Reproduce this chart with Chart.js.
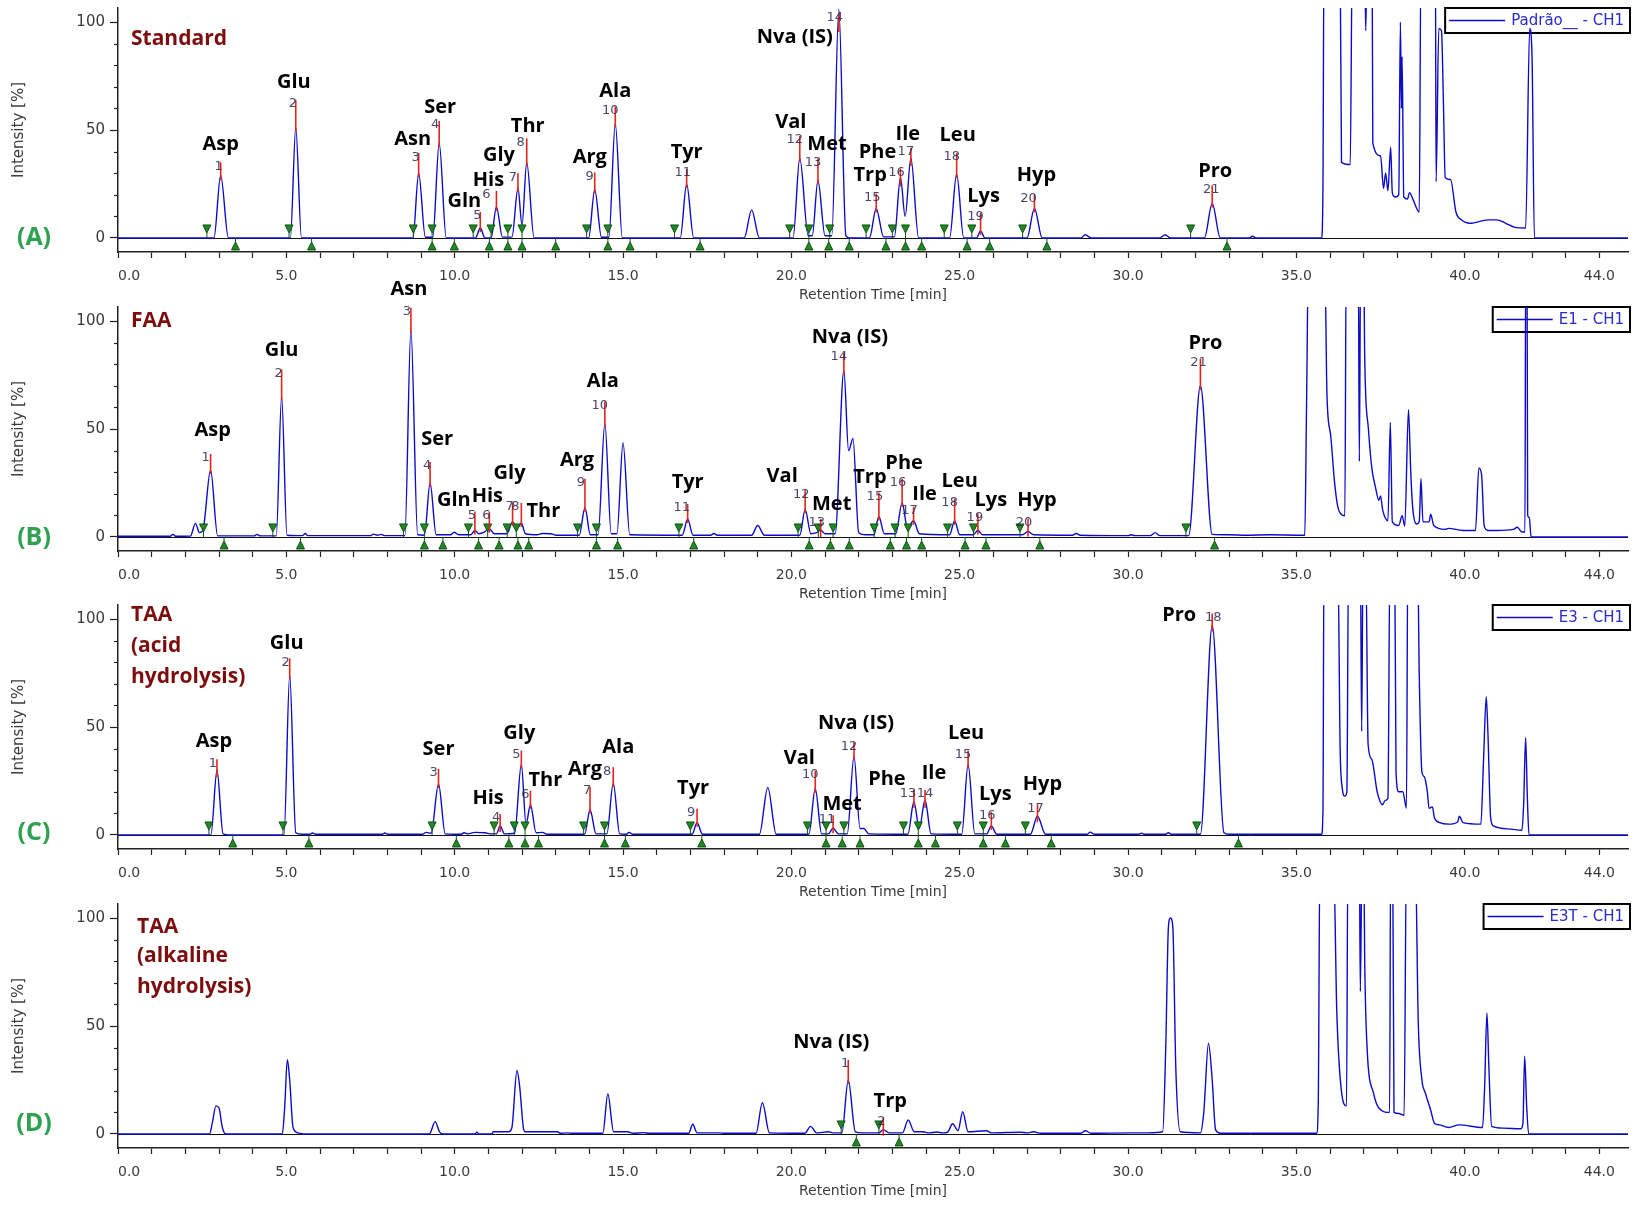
<!DOCTYPE html>
<html>
<head>
<meta charset="utf-8">
<title>Amino acid chromatograms</title>
<script src="https://cdn.jsdelivr.net/npm/chart.js@4.4.1/dist/chart.umd.min.js"></script>
<style>
  html, body { margin: 0; padding: 0; background: #fff; overflow: hidden; }
  #wrap { position: relative; width: 1640px; height: 1211px; }
  #wrap canvas { position: absolute; left: 0; }
</style>
</head>
<body>
<div id="wrap">
  <canvas id="chartA" width="1640" height="332" style="top:-20px"></canvas>
  <canvas id="chartB" width="1640" height="332" style="top:279px"></canvas>
  <canvas id="chartC" width="1640" height="332" style="top:577px"></canvas>
  <canvas id="chartD" width="1640" height="332" style="top:876px"></canvas>
</div>
<script>
// ============================================================
// Data: [retention time (min), intensity (%)]
// ============================================================

const rtTicks      = [0, 5, 10, 15, 20, 25, 30, 35, 40, 44];
const rtTickLabels = ['0.0', '5.0', '10.0', '15.0', '20.0', '25.0', '30.0', '35.0', '40.0', '44.0'];
const intTicks      = [0, 50, 100];
const intTickLabels = ['0', '50', '100'];

// ------ (A) Standard ------
const traceA = [
  [0,0],[2.85,0],[3.05,29],[3.28,0],
  [5.12,0],[5.28,51],[5.45,0],
  [8.76,0],[8.93,30],[9.13,0.3],[9.35,0.3],[9.54,44],[9.75,0],
  [10.62,0],[10.76,4.6],[10.9,0],
  [11.08,0],[11.24,14.4],[11.42,0.4],
  [11.7,0.4],[11.88,23],[12.0,6],[12.14,35],[12.36,0],
  [13.98,0],[14.16,22.5],[14.36,0.3],[14.58,0.3],[14.77,53],[14.98,0],
  [16.7,0],[16.89,25],[17.1,0],
  [18.6,0],[18.82,13],[19.05,0],
  [20.05,0],[20.25,37],[20.5,1],[20.62,1],[20.79,26.6],[21.0,1],[21.2,1],[21.41,106],[21.62,1],[21.75,0],
  [22.32,0],[22.52,13.7],[22.74,0.5],[23.06,0.5],[23.24,28],[23.38,10],[23.55,37],[23.78,0],
  [24.7,0],[24.91,29.6],[25.12,0],
  [25.5,0],[25.62,3.3],[25.75,0],
  [27.0,0],[27.22,13.7],[27.45,0],
  [28.6,0],[28.73,1.5],[28.9,0],
  [30.95,0],[31.1,1.5],[31.25,0],
  [32.27,0],[32.5,16],[32.74,0],
  [33.6,0],[33.7,0.8],[33.8,0],
  [35.75,0],[35.79,26],[35.82,130],[36.3,130],[36.34,35],[36.6,34],[36.66,130],[37.03,130],[37.06,96],
  [37.1,130],[37.25,130],[37.27,44],[37.5,38],[37.59,23],[37.65,30],[37.72,22],[37.8,42],[37.85,21],
  [37.93,19],[38.04,20],[38.09,100],[38.12,60],[38.14,84],[38.19,19],[38.3,18],[38.36,21],[38.46,18],
  [38.65,12],[38.7,130],[39.13,130],[39.15,26],[39.23,97],[39.31,96],[39.37,61],[39.42,28],[39.58,27],
  [39.74,12],[39.9,8.4],[40.16,6.8],[40.69,8.4],[40.95,8.4],[41.22,6.8],[41.49,4.9],[41.81,4.6],
  [41.93,97],[42.0,84],[42.07,0],[44.85,0]
];
const namesA = ['Asp','Glu','Asn','Ser','Gln','His','Gly','Thr','Arg','Ala','Tyr','Val','Met','Nva (IS)','Trp','Phe','Ile','Leu','Lys','Hyp','Pro'];
const rtA    = [3.05,5.28,8.93,9.54,10.76,11.24,11.88,12.14,14.16,14.77,16.89,20.25,20.79,21.41,22.52,23.24,23.55,24.91,25.62,27.22,32.5];
const htA    = [29,51,30,44,4.6,14.4,23,35,22.5,53,25,37,26.6,106,13.7,28,37,29.6,3.3,13.7,16];
const startA = [2.64,5.08,8.77,9.33,10.55,11.08,11.58,12.0,13.92,14.55,16.53,19.95,20.52,21.14,22.22,23.0,23.39,24.54,25.36,26.87,31.86];
const endA   = [3.49,5.75,9.33,9.99,11.03,11.58,12.0,13.0,14.55,15.21,17.29,20.52,21.11,21.72,22.81,23.39,23.87,25.22,25.89,27.59,32.94];

// ------ (B) FAA ------
const traceB = [
  [0,0.3],[1.55,0.3],[1.63,1.2],[1.71,0.3],
  [2.15,0.4],[2.3,6.3],[2.42,2],[2.52,3],[2.75,31],[2.96,0.5],
  [4.05,0.5],[4.13,1.2],[4.22,0.5],
  [4.7,0.5],[4.86,65],[5.02,0.8],
  [5.48,0.6],[5.56,1.6],[5.64,0.6],
  [7.5,0.6],[7.58,1.3],[7.7,0.8],[7.82,1.2],[7.93,0.6],
  [8.52,0.6],[8.7,96],[8.9,1],[9.1,0.8],[9.27,25],[9.45,1],
  [9.88,1],[9.98,2.2],[10.12,1],
  [10.48,1],[10.6,3],[10.72,1.5],[10.88,2.2],[11.03,3.8],[11.17,1.5],
  [11.55,1.5],[11.72,7],[11.86,4],[11.98,6.5],[12.1,1.5],
  [12.45,1],[12.6,1.6],[12.85,1.5],[13.0,0.8],
  [13.7,0.8],[13.87,13.5],[14.03,1],
  [14.26,1],[14.46,52.6],[14.65,1.5],[14.82,1.5],[15.0,43.6],[15.2,1],
  [16.76,0.8],[16.92,8.3],[17.08,0.8],
  [17.6,0.8],[17.7,1.6],[17.8,0.8],
  [18.82,0.8],[19.0,5.3],[19.2,0.8],
  [20.25,0.8],[20.41,12.8],[20.58,1.5],[20.75,2],[20.87,3.2],[21.0,1.5],[21.3,1.5],
  [21.56,77],[21.7,40],[21.83,45.6],[22.0,2],[22.2,1],
  [22.45,1],[22.6,9.5],[22.76,1.5],
  [23.1,1.5],[23.29,15.8],[23.45,4],[23.63,7.5],[23.8,1.5],
  [24.7,1],[24.85,7.5],[25.0,1],
  [25.4,1],[25.54,3],[25.68,1],
  [26.86,1],[27.03,2.5],[27.2,1],
  [28.35,0.8],[28.46,1.6],[28.58,0.8],
  [30.0,0.6],[30.1,1],[30.2,0.6],
  [30.66,0.6],[30.8,2],[30.95,0.6],
  [31.8,0.6],[32.15,70],[32.5,1.2],
  [33.0,1],[33.5,0.8],[34.2,1],[35.2,0.8],
  [35.25,0.8],[35.3,58],[35.36,130],[35.84,130],[35.91,65],[36.02,47],[36.13,26],[36.23,14],[36.33,10.5],
  [36.44,9.8],[36.48,130],[36.84,130],[36.87,35],[36.91,130],[37.0,130],[37.03,83],[37.14,50],[37.24,32],
  [37.35,23],[37.45,17],[37.5,19],[37.56,12.8],[37.72,7.5],[37.79,53],[37.85,7],[38.04,5.3],[38.14,9.8],
  [38.22,5],[38.33,59],[38.4,29],[38.46,12.8],[38.57,6],[38.65,7],[38.7,27],[38.76,7],[38.94,7],[38.99,10.5],
  [39.08,5.3],[39.42,3.5],[39.52,4],[39.95,3],[40.32,3],[40.42,32],[40.5,29],[40.58,5],[40.69,3],[40.96,3],
  [41.44,3.5],[41.56,4.5],[41.7,2.3],[41.79,2.3],[41.81,130],[41.85,130],[41.87,10],[41.92,9],[41.97,0],[44.85,0]
];
const namesB = ['Asp','Glu','Asn','Ser','Gln','His','Gly','Thr','Arg','Ala','Tyr','Val','Met','Nva (IS)','Trp','Phe','Ile','Leu','Lys','Hyp','Pro'];
const rtB    = [2.75,4.86,8.7,9.27,10.6,11.03,11.72,11.98,13.87,14.46,16.92,20.41,20.87,21.56,22.6,23.29,23.63,24.85,25.54,27.03,32.15];
const htB    = [31,65,96,25,3,3.8,7,6.5,13.5,52.6,8.3,12.8,3.2,77,9.5,15.8,7.5,7.5,3,2.5,70];
const startB = [2.54,4.6,8.48,9.1,10.41,10.98,11.56,11.83,13.65,14.21,16.66,20.2,20.8,21.24,22.46,23.08,23.47,24.64,25.41,26.79,31.72];
const endB   = [3.15,5.42,9.1,9.65,10.71,11.32,11.88,12.2,14.21,14.84,17.1,20.53,21.16,21.72,22.94,23.42,23.87,25.16,25.78,27.38,32.57];

// ------ (C) TAA, acid hydrolysis ------
const traceC = [
  [0,0],[2.76,0],[2.94,30],[3.12,0.5],[3.3,0],
  [4.93,0],[5.1,74],[5.28,1],[5.45,0.3],[5.7,0.3],[5.77,0.9],[5.88,0.3],
  [7.85,0.3],[7.92,0.9],[8.02,0.3],
  [9.05,0.3],[9.15,1.2],[9.3,0.8],[9.52,23.6],[9.72,0.5],
  [10.18,0.3],[10.28,1],[10.4,0.5],[10.6,1.2],[10.9,1],[11.1,0.5],
  [11.24,0.5],[11.35,4.2],[11.48,0.5],
  [11.78,0.8],[11.98,32.6],[12.12,5],[12.25,14],[12.42,1],[12.6,1.2],[12.75,0.3],
  [13.86,0.3],[14.02,11.7],[14.2,0.5],
  [14.52,0.5],[14.71,24],[14.9,0.5],
  [15.1,0.3],[15.18,1.2],[15.28,0.3],
  [17.05,0.3],[17.2,5.7],[17.36,0.3],
  [19.05,0.3],[19.3,22],[19.55,0.3],
  [20.52,0.3],[20.71,21.4],[20.9,0.5],
  [21.1,0.5],[21.24,3.1],[21.4,0.5],
  [21.66,0.5],[21.86,36.4],[22.04,3],[22.15,3],[22.3,0.5],
  [23.46,0.3],[23.64,15.4],[23.8,3],[23.97,16.2],[24.15,0.5],
  [25.06,0.3],[25.25,32.6],[25.45,0.5],
  [25.8,0.5],[25.94,4.2],[26.1,0.3],
  [27.1,0.3],[27.31,8.7],[27.55,0.3],
  [28.78,0.3],[28.88,1.3],[29.0,0.3],
  [30.3,0.3],[30.4,0.8],[30.5,0.3],
  [31.1,0.3],[31.2,1],[31.3,0.3],
  [32.15,0.3],[32.5,97],[32.85,1],[33.0,0.3],
  [35.75,0.3],[35.79,12],[35.82,130],[36.23,130],[36.3,40],[36.36,22],[36.44,18],[36.5,20],[36.55,130],
  [36.9,130],[36.94,48],[36.98,130],[37.06,130],[37.13,42],[37.24,35],[37.4,20],[37.56,14],[37.64,16],
  [37.72,17],[37.78,130],[37.92,130],[37.96,29],[38.04,20],[38.16,20],[38.27,12.4],[38.31,130],[38.6,130],
  [38.65,74],[38.73,29],[38.8,27],[38.89,20],[38.94,12.4],[39.04,13],[39.1,8],[39.26,5.7],[39.52,5],
  [39.79,6],[39.84,8.7],[39.95,5.7],[40.48,5],[40.56,35],[40.64,64],[40.69,47],[40.77,8],[40.85,4.2],
  [41.38,2.7],[41.7,2.2],[41.75,14],[41.81,45],[41.86,17.7],[41.91,0],[44.85,0]
];
const namesC = ['Asp','Glu','Ser','His','Gly','Thr','Arg','Ala','Tyr','Val','Met','Nva (IS)','Phe','Ile','Leu','Lys','Hyp','Pro'];
const rtC    = [2.94,5.1,9.52,11.35,11.98,12.25,14.02,14.71,17.2,20.71,21.24,21.86,23.64,23.97,25.25,25.94,27.31,32.5];
const htC    = [30,74,23.6,4.2,32.6,14,11.7,24,5.7,21.4,3.1,36.4,15.4,16.2,32.6,4.2,8.7,97];
const startC = [2.7,4.9,9.33,11.17,11.77,12.09,13.83,14.45,17.0,20.48,21.03,21.56,23.33,23.77,24.93,25.7,26.95,32.04];
const endC   = [3.41,5.67,10.05,11.61,12.09,12.49,14.45,15.07,17.34,21.03,21.51,22.04,23.77,24.28,25.7,26.36,27.72,33.28];

// ------ (D) TAA, alkaline hydrolysis ------
const traceD = [
  [0,0],[2.72,0],[2.8,5],[2.91,13],[3.0,12],[3.1,3],[3.2,0],
  [4.88,0],[4.95,12],[5.03,34.4],[5.1,25],[5.2,3],[5.35,0.5],[5.5,0],
  [9.25,0],[9.42,5.7],[9.55,1],[9.65,0],
  [10.6,0],[10.66,0.8],[10.72,0],
  [11.1,0],[11.15,1],[11.6,1],[11.7,3],[11.85,29.4],[11.93,22],[12.05,2],[12.1,1],[13.05,1],[13.15,0.3],
  [13.33,0.5],[13.5,0.3],
  [14.4,0.3],[14.55,18.5],[14.72,1],
  [15.14,1],[15.3,0.3],[15.6,0.6],[15.8,0.3],
  [16.95,0.3],[17.07,4.5],[17.2,0.5],
  [17.85,0.5],[18.0,0.3],
  [18.95,0.3],[19.14,14.5],[19.35,0.5],
  [20.4,0.3],[20.57,3.5],[20.75,0.5],
  [21.1,1],[21.25,0.5],
  [21.5,0.5],[21.69,25],[21.9,1],[22.1,0.5],
  [22.6,0.5],[22.73,2],[22.9,0.5],
  [23.3,0.5],[23.47,6.5],[23.65,1],[23.9,1],[24.1,0.5],[24.32,0.9],[24.5,0.5],
  [24.65,1],[24.79,4.7],[24.95,1.5],[25.09,10.3],[25.25,1],
  [25.8,1.5],[25.95,0.5],[26.8,0.8],[27.0,0.5],[27.2,1],[27.4,0.3],
  [28.6,0.3],[28.73,1.5],[28.9,0.3],
  [30.1,0.5],[30.6,0.5],[31.03,1],[31.12,40],[31.2,96],[31.26,100],[31.33,96],[31.42,30],[31.55,1],
  [32.15,0.5],[32.25,10],[32.39,42],[32.5,25],[32.6,2],[32.75,0.3],
  [33.8,0.3],[34.3,0.3],[35.6,0.3],
  [35.65,14],[35.7,130],[36.1,130],[36.2,57],[36.33,21],[36.49,13],[36.53,130],[36.87,130],[36.9,66],
  [36.95,130],[37.0,130],[37.03,80],[37.1,40],[37.29,19],[37.45,12],[37.77,10],[37.8,130],[37.86,130],
  [37.9,10],[38.04,9.5],[38.2,8.7],[38.27,130],[38.53,130],[38.62,52],[38.73,25],[38.83,19],[38.99,11],
  [39.1,5],[39.26,4.2],[39.52,3],[39.84,4.2],[40.53,3],[40.59,21],[40.66,56],[40.72,30],[40.8,3.5],
  [41.14,2.7],[41.67,2.4],[41.73,5],[41.78,36],[41.84,13],[41.9,0],[44.85,0]
];
const namesD = ['Nva (IS)','Trp'];
const rtD    = [21.69,22.73];
const htD    = [25,2];
const startD = [21.48,22.6];
const endD   = [21.93,23.2];

// ============================================================
// Label layout (pixel offsets from each peak apex)
// ============================================================
const nameOffA = [[0,-31],[-2,-46],[-6,-34],[1,-36],[-16,-27],[-8,-27],[-19,-33],[1,-36],[-5,-32],[0,-32],[0,-32],[-9,-36],[9,-36],[-44,28],[-6,-33],[-23,-25],[-3,-24],[1,-39],[3,-35],[2,-33],[3,-32]];
const numOffA  = [[-2,-9],[-3,-24],[-3,-16],[-4,-18],[-3,-12],[-10,-12],[-5,-11],[-6,-20],[-5,-13],[-5,-13],[-4,-11],[-5,-18],[-5,-18],[-4,9],[-4,-11],[-4,-5],[-5,-6],[-5,-17],[-5,-14],[-6,-10],[-1,-14]];
const nameOffB = [[2,-40],[0,-46],[-2,-40],[7,-44],[-21,-30],[-2,-32],[-3,-49],[22,-12],[-8,-48],[-2,-42],[0,-37],[-23,-33],[11,-26],[6,-33],[-9,-39],[2,-40],[11,-26],[5,-39],[13,-30],[9,-31],[5,-43]];
const numOffB  = [[-5,-12],[-3,-23],[-4,-18],[-3,-17],[-3,-15],[-3,-13],[-3,-15],[-6,-16],[-4,-25],[-5,-18],[-6,-11],[-4,-15],[-4,-7],[-5,-14],[-4,-20],[-4,-20],[-4,-10],[-5,-18],[-3,-13],[-4,-9],[-2,-23]];
const nameOffC = [[-3,-29],[-3,-32],[0,-35],[-12,-28],[-2,-31],[15,-24],[-5,-40],[5,-36],[-4,-34],[-16,-30],[9,-24],[2,-33],[-27,-22],[9,-27],[-2,-31],[4,-32],[5,-32],[-33,-10]];
const numOffC  = [[-4,-7],[-4,-13],[-5,-11],[-4,-8],[-5,-10],[-5,-10],[-3,-19],[-6,-12],[-6,-10],[-5,-14],[-6,-9],[-5,-10],[-6,-8],[0,-6],[-5,-10],[-4,-10],[-2,-8],[1,-8]];
const nameOffD = [[-17,-38],[7,-28]];
const numOffD  = [[-3,-16],[-2,-8]];

const TRACE_BLUE = '#0c0cc8';
const TITLE_RED  = '#7d0d0d';
const LETTER_GRN = '#30a150';
const MARK_GRN   = '#1f8a24';
const X_MAX      = 44.85;

const panels = [
  { id: 'chartA', trace: traceA, names: namesA, rt: rtA, ht: htA, start: startA, end: endA,
    nameOff: nameOffA, numOff: numOffA, title: ['Standard'], titleX: 131, titleY: [39],
    letter: '(A)', letterY: 238, legend: 'Padrão__ - CH1' },
  { id: 'chartB', trace: traceB, names: namesB, rt: rtB, ht: htB, start: startB, end: endB,
    nameOff: nameOffB, numOff: numOffB, title: ['FAA'], titleX: 131, titleY: [22],
    letter: '(B)', letterY: 239, legend: 'E1 - CH1' },
  { id: 'chartC', trace: traceC, names: namesC, rt: rtC, ht: htC, start: startC, end: endC,
    nameOff: nameOffC, numOff: numOffC, title: ['TAA', '(acid', 'hydrolysis)'], titleX: 131, titleY: [18, 49, 80],
    letter: '(C)', letterY: 236, legend: 'E3 - CH1' },
  { id: 'chartD', trace: traceD, names: namesD, rt: rtD, ht: htD, start: startD, end: endD,
    nameOff: nameOffD, numOff: numOffD, title: ['TAA', '(alkaline', 'hydrolysis)'], titleX: 137, titleY: [31, 60, 91],
    letter: '(D)', letterY: 228, legend: 'E3T - CH1' }
];

const PANEL_SHIFT = 20; // canvas starts 20px above the panel

// ------ annotation plugin: baseline, legend box, peak marks, texts ------
function panelPlugin(p) {
  return {
    id: 'panelDecor',
    beforeDatasetsDraw(chart) {
      const { ctx, chartArea: a, scales: { y } } = chart;
      const y0 = Math.round(y.getPixelForValue(0)) + 0.5;
      ctx.save();
      // zero line
      ctx.strokeStyle = '#111';
      ctx.lineWidth = 1;
      ctx.beginPath();
      ctx.moveTo(a.left, y0);
      ctx.lineTo(a.right, y0);
      ctx.stroke();
      // minor y ticks
      ctx.strokeStyle = '#222';
      ctx.lineWidth = 1.2;
      for (let v = 10; v < 100; v += 10) {
        if (v === 50) continue;
        const py = Math.round(y.getPixelForValue(v)) + 0.5;
        ctx.beginPath();
        ctx.moveTo(a.left - 4, py);
        ctx.lineTo(a.left, py);
        ctx.stroke();
      }
      // legend box
      ctx.font = '15px "DejaVu Sans"';
      const tw = ctx.measureText(p.legend).width;
      const right = 1630, top = a.top, h = 25;
      const left = right - 6 - tw - 66;
      ctx.fillStyle = '#fff';
      ctx.fillRect(left, top, right - left, h);
      ctx.strokeStyle = '#000';
      ctx.lineWidth = 2;
      ctx.strokeRect(left, top, right - left, h);
      ctx.strokeStyle = TRACE_BLUE;
      ctx.lineWidth = 1.5;
      ctx.beginPath();
      ctx.moveTo(left + 4, top + h / 2);
      ctx.lineTo(left + 60, top + h / 2);
      ctx.stroke();
      ctx.fillStyle = '#2a2ad2';
      ctx.textAlign = 'left';
      ctx.textBaseline = 'middle';
      ctx.fillText(p.legend, left + 66, top + h / 2 + 1);
      ctx.restore();
    },
    afterDatasetsDraw(chart) {
      const { ctx, scales: { x, y } } = chart;
      const y0 = y.getPixelForValue(0);
      ctx.save();

      // integration markers
      ctx.fillStyle = MARK_GRN;
      ctx.strokeStyle = '#0f5212';
      ctx.lineWidth = 1;
      p.start.forEach(t => {
        const px = x.getPixelForValue(t);
        ctx.beginPath();
        ctx.moveTo(px - 4, y0 - 13);
        ctx.lineTo(px + 4, y0 - 13);
        ctx.lineTo(px, y0 - 5);
        ctx.closePath();
        ctx.fill(); ctx.stroke();
        ctx.beginPath(); ctx.moveTo(px, y0 - 5); ctx.lineTo(px, y0); ctx.stroke();
      });
      p.end.forEach(t => {
        const px = x.getPixelForValue(t);
        ctx.beginPath();
        ctx.moveTo(px - 4, y0 + 12);
        ctx.lineTo(px + 4, y0 + 12);
        ctx.lineTo(px, y0 + 4);
        ctx.closePath();
        ctx.fill(); ctx.stroke();
        ctx.beginPath(); ctx.moveTo(px, y0 + 4); ctx.lineTo(px, y0); ctx.stroke();
      });

      // red apex lines + peak numbers
      ctx.textAlign = 'center';
      ctx.textBaseline = 'middle';
      p.rt.forEach((t, i) => {
        const px = x.getPixelForValue(t);
        const py = y.getPixelForValue(Math.min(p.ht[i], 106.5));
        const ny = py + p.numOff[i][1];
        ctx.strokeStyle = '#e3241b';
        ctx.lineWidth = 1.6;
        ctx.beginPath();
        ctx.moveTo(px, ny - 4);
        ctx.lineTo(px, Math.max(py + 4, ny + 14));
        ctx.stroke();
        ctx.font = '13px "DejaVu Sans"';
        ctx.fillStyle = 'rgba(40,40,85,0.85)';
        ctx.fillText(String(i + 1), px + p.numOff[i][0], ny);
      });

      // amino acid names
      ctx.font = 'bold 20px "Open Sans"';
      ctx.fillStyle = '#000';
      p.rt.forEach((t, i) => {
        const px = x.getPixelForValue(t);
        const py = y.getPixelForValue(Math.min(p.ht[i], 106.5));
        ctx.fillText(p.names[i], px + p.nameOff[i][0], py + p.nameOff[i][1]);
      });

      // panel title
      ctx.font = 'bold 21px "Open Sans"';
      ctx.fillStyle = TITLE_RED;
      ctx.textAlign = 'left';
      p.title.forEach((line, k) => ctx.fillText(line, p.titleX, p.titleY[k] + PANEL_SHIFT));

      // panel letter
      ctx.font = 'bold 25px "Open Sans"';
      ctx.fillStyle = LETTER_GRN;
      ctx.textAlign = 'center';
      ctx.fillText(p.letter, 34, p.letterY + PANEL_SHIFT);
      ctx.restore();
    }
  };
}

Chart.defaults.font.family = '"DejaVu Sans"';

function buildPanel(p) {
  return new Chart(document.getElementById(p.id), {
    type: 'line',
    data: {
      datasets: [{
        label: p.legend,
        data: p.trace.map(d => ({ x: d[0], y: d[1] })),
        borderColor: TRACE_BLUE,
        borderWidth: 1.4,
        pointRadius: 0,
        fill: false,
        cubicInterpolationMode: 'monotone'
      }]
    },
    options: {
      responsive: false,
      animation: false,
      devicePixelRatio: 1,
      layout: { padding: { top: 28, right: 12, left: 0, bottom: 0 } },
      plugins: { legend: { display: false }, tooltip: { enabled: false } },
      scales: {
        x: {
          type: 'linear',
          min: 0,
          max: X_MAX,
          // one tick per minute, plus an unmarked one at the axis end so that
          // 'inner' alignment only shifts the first label
          afterBuildTicks: s => {
            s.ticks = [];
            for (let v = 0; v <= 44; v++) s.ticks.push({ value: v });
            s.ticks.push({ value: X_MAX });
          },
          afterFit: s => { s.height = 60; },
          ticks: {
            autoSkip: false, maxRotation: 0, minRotation: 0, padding: 10, align: 'inner',
            color: '#3a3a3a', font: { size: 14 },
            callback: v => { const i = rtTicks.indexOf(v); return i < 0 ? '' : rtTickLabels[i]; }
          },
          grid: {
            drawOnChartArea: false, drawTicks: true, tickLength: 6, tickWidth: 1.2,
            tickColor: c => (c.tick && c.tick.value > 44) ? 'rgba(0,0,0,0)' : '#222'
          },
          border: { display: true, color: '#222', width: 1.5 },
          title: { display: true, text: 'Retention Time [min]', color: '#3a3a3a', font: { size: 14 }, padding: { top: 0, bottom: 8 } }
        },
        y: {
          min: -6.5,
          max: 106.5,
          afterBuildTicks: s => { s.ticks = intTicks.map(v => ({ value: v })); },
          afterFit: s => { s.width = 118; },
          ticks: {
            padding: 5, color: '#3a3a3a', font: { size: 15 },
            callback: v => { const i = intTicks.indexOf(v); return i < 0 ? '' : intTickLabels[i]; }
          },
          grid: { drawOnChartArea: false, drawTicks: true, tickLength: 8, tickColor: '#222', tickWidth: 1.2 },
          border: { display: true, color: '#222', width: 1.5 },
          title: { display: true, text: 'Intensity [%]', color: '#3a3a3a', font: { size: 15 }, padding: { top: 10, bottom: 0 } }
        }
      }
    },
    plugins: [panelPlugin(p)]
  });
}

panels.forEach(buildPanel);
</script>
</body>
</html>
